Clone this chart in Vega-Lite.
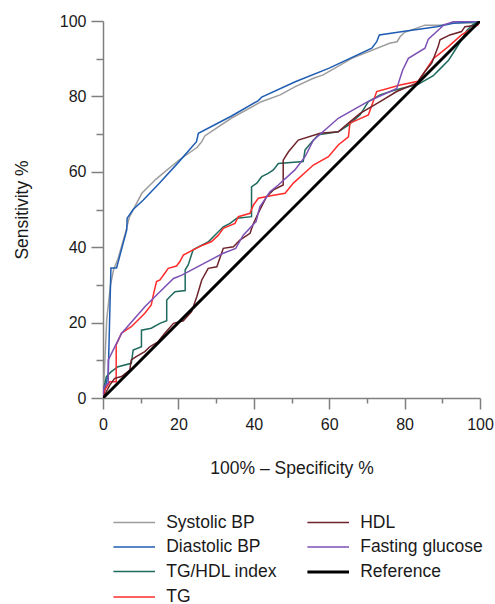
{
  "$schema": "https://vega.github.io/schema/vega-lite/v6.json",
  "width": 377,
  "height": 377,
  "autosize": {"type": "none"},
  "padding": {"left": 103, "top": 21, "right": 15, "bottom": 206},
  "background": "white",
  "config": {
    "font": "Liberation Sans",
    "view": {"stroke": null},
    "axis": {"grid": false, "domainColor": "#7f7f7f", "domainWidth": 1.5, "tickColor": "#7f7f7f", "tickWidth": 1.5, "labelFontSize": 16, "labelColor": "#1a1a1a", "titleFontSize": 17.5, "titleFontWeight": "normal", "titleColor": "#1a1a1a", "labelFlush": false},
    "legend": {"orient": "none", "legendX": 8.7, "legendY": 492, "columns": 2, "columnPadding": 23, "rowPadding": 6.5, "symbolType": "M-2.5,0H2.5", "symbolSize": 277, "symbolOffset": 12.5, "symbolStrokeWidth": 1.5, "labelFontSize": 17.5, "labelOffset": 22, "labelColor": "#1a1a1a", "padding": 0, "title": null}
  },
  "datasets": {
    "curves": [
      {"s": "Systolic BP", "x": 0, "y": 0}, {"s": "Systolic BP", "x": 0.5, "y": 10}, {"s": "Systolic BP", "x": 1, "y": 21}, {"s": "Systolic BP", "x": 2, "y": 30}, {"s": "Systolic BP", "x": 2.8, "y": 34}, {"s": "Systolic BP", "x": 4, "y": 37}, {"s": "Systolic BP", "x": 6, "y": 44}, {"s": "Systolic BP", "x": 7, "y": 48}, {"s": "Systolic BP", "x": 10.3, "y": 54.3}, {"s": "Systolic BP", "x": 14, "y": 58}, {"s": "Systolic BP", "x": 20, "y": 63}, {"s": "Systolic BP", "x": 25, "y": 66.5}, {"s": "Systolic BP", "x": 26.2, "y": 68}, {"s": "Systolic BP", "x": 27, "y": 69.5}, {"s": "Systolic BP", "x": 34, "y": 74.2}, {"s": "Systolic BP", "x": 42, "y": 78.6}, {"s": "Systolic BP", "x": 47, "y": 80.4}, {"s": "Systolic BP", "x": 51, "y": 82.6}, {"s": "Systolic BP", "x": 55.8, "y": 84.8}, {"s": "Systolic BP", "x": 58.4, "y": 85.7}, {"s": "Systolic BP", "x": 66, "y": 90.1}, {"s": "Systolic BP", "x": 76, "y": 94.1}, {"s": "Systolic BP", "x": 78, "y": 94.5}, {"s": "Systolic BP", "x": 78.8, "y": 95.8}, {"s": "Systolic BP", "x": 80, "y": 97}, {"s": "Systolic BP", "x": 85.4, "y": 98.9}, {"s": "Systolic BP", "x": 89.4, "y": 98.9}, {"s": "Systolic BP", "x": 93, "y": 99.5}, {"s": "Systolic BP", "x": 99, "y": 99.5}, {"s": "Systolic BP", "x": 100, "y": 100},
      {"s": "Diastolic BP", "x": 0, "y": 0}, {"s": "Diastolic BP", "x": 0.5, "y": 2}, {"s": "Diastolic BP", "x": 1.4, "y": 6.6}, {"s": "Diastolic BP", "x": 2.1, "y": 34.5}, {"s": "Diastolic BP", "x": 3.6, "y": 34.5}, {"s": "Diastolic BP", "x": 6.3, "y": 44.6}, {"s": "Diastolic BP", "x": 6.4, "y": 47.7}, {"s": "Diastolic BP", "x": 8, "y": 50}, {"s": "Diastolic BP", "x": 10.7, "y": 52.5}, {"s": "Diastolic BP", "x": 15, "y": 57}, {"s": "Diastolic BP", "x": 20, "y": 62.5}, {"s": "Diastolic BP", "x": 24.8, "y": 68}, {"s": "Diastolic BP", "x": 25.3, "y": 70.2}, {"s": "Diastolic BP", "x": 34.1, "y": 74.8}, {"s": "Diastolic BP", "x": 41.2, "y": 78.9}, {"s": "Diastolic BP", "x": 42.1, "y": 79.8}, {"s": "Diastolic BP", "x": 51, "y": 83.9}, {"s": "Diastolic BP", "x": 60, "y": 87.5}, {"s": "Diastolic BP", "x": 71.3, "y": 92.8}, {"s": "Diastolic BP", "x": 72.6, "y": 94.5}, {"s": "Diastolic BP", "x": 73.3, "y": 96.3}, {"s": "Diastolic BP", "x": 80, "y": 97.3}, {"s": "Diastolic BP", "x": 88.5, "y": 98.5}, {"s": "Diastolic BP", "x": 92.9, "y": 99.4}, {"s": "Diastolic BP", "x": 99, "y": 99.8}, {"s": "Diastolic BP", "x": 100, "y": 100},
      {"s": "TG/HDL index", "x": 0, "y": 0}, {"s": "TG/HDL index", "x": 0.3, "y": 3}, {"s": "TG/HDL index", "x": 0.9, "y": 5.7}, {"s": "TG/HDL index", "x": 2.2, "y": 7}, {"s": "TG/HDL index", "x": 4, "y": 8.3}, {"s": "TG/HDL index", "x": 7.5, "y": 9.2}, {"s": "TG/HDL index", "x": 8, "y": 12.7}, {"s": "TG/HDL index", "x": 10.2, "y": 13.6}, {"s": "TG/HDL index", "x": 10.2, "y": 18}, {"s": "TG/HDL index", "x": 12.8, "y": 18.5}, {"s": "TG/HDL index", "x": 15.1, "y": 19.8}, {"s": "TG/HDL index", "x": 16.9, "y": 20.5}, {"s": "TG/HDL index", "x": 16.9, "y": 26}, {"s": "TG/HDL index", "x": 17.8, "y": 26.9}, {"s": "TG/HDL index", "x": 19.1, "y": 28.2}, {"s": "TG/HDL index", "x": 21.8, "y": 28.5}, {"s": "TG/HDL index", "x": 21.8, "y": 34}, {"s": "TG/HDL index", "x": 22.6, "y": 35.3}, {"s": "TG/HDL index", "x": 23.9, "y": 39.3}, {"s": "TG/HDL index", "x": 25.3, "y": 40.1}, {"s": "TG/HDL index", "x": 28, "y": 41.5}, {"s": "TG/HDL index", "x": 30, "y": 43.5}, {"s": "TG/HDL index", "x": 31.9, "y": 45.4}, {"s": "TG/HDL index", "x": 33.7, "y": 46.3}, {"s": "TG/HDL index", "x": 35.5, "y": 47.7}, {"s": "TG/HDL index", "x": 39.4, "y": 48.1}, {"s": "TG/HDL index", "x": 39.4, "y": 56}, {"s": "TG/HDL index", "x": 40.8, "y": 57}, {"s": "TG/HDL index", "x": 42.1, "y": 58.7}, {"s": "TG/HDL index", "x": 43.8, "y": 59.6}, {"s": "TG/HDL index", "x": 45.2, "y": 60.5}, {"s": "TG/HDL index", "x": 46.5, "y": 62.2}, {"s": "TG/HDL index", "x": 53.1, "y": 62.7}, {"s": "TG/HDL index", "x": 53.6, "y": 65.8}, {"s": "TG/HDL index", "x": 55.8, "y": 68.4}, {"s": "TG/HDL index", "x": 57.1, "y": 69.8}, {"s": "TG/HDL index", "x": 62.4, "y": 70.6}, {"s": "TG/HDL index", "x": 65.1, "y": 72.4}, {"s": "TG/HDL index", "x": 68.2, "y": 75.1}, {"s": "TG/HDL index", "x": 70.4, "y": 78.6}, {"s": "TG/HDL index", "x": 73.5, "y": 80.4}, {"s": "TG/HDL index", "x": 77.5, "y": 81.7}, {"s": "TG/HDL index", "x": 83.6, "y": 83.2}, {"s": "TG/HDL index", "x": 87.6, "y": 85.5}, {"s": "TG/HDL index", "x": 89.4, "y": 87.3}, {"s": "TG/HDL index", "x": 91.6, "y": 89.5}, {"s": "TG/HDL index", "x": 93.4, "y": 92.3}, {"s": "TG/HDL index", "x": 95.1, "y": 95}, {"s": "TG/HDL index", "x": 96.5, "y": 97.5}, {"s": "TG/HDL index", "x": 98, "y": 99}, {"s": "TG/HDL index", "x": 100, "y": 100},
      {"s": "TG", "x": 0, "y": 0}, {"s": "TG", "x": 0.4, "y": 2}, {"s": "TG", "x": 1.8, "y": 4.3}, {"s": "TG", "x": 3.5, "y": 4.3}, {"s": "TG", "x": 3.5, "y": 14.1}, {"s": "TG", "x": 4.9, "y": 17.2}, {"s": "TG", "x": 7.5, "y": 18.9}, {"s": "TG", "x": 9.3, "y": 20.7}, {"s": "TG", "x": 11.1, "y": 22.5}, {"s": "TG", "x": 12.8, "y": 24.7}, {"s": "TG", "x": 13.5, "y": 28}, {"s": "TG", "x": 14.2, "y": 30.9}, {"s": "TG", "x": 15.1, "y": 31.3}, {"s": "TG", "x": 16.4, "y": 33.1}, {"s": "TG", "x": 17.3, "y": 34.4}, {"s": "TG", "x": 19.5, "y": 35}, {"s": "TG", "x": 20.4, "y": 36.2}, {"s": "TG", "x": 21.3, "y": 37.9}, {"s": "TG", "x": 23.9, "y": 39.3}, {"s": "TG", "x": 26.6, "y": 40.6}, {"s": "TG", "x": 28.8, "y": 41.5}, {"s": "TG", "x": 30.6, "y": 43.2}, {"s": "TG", "x": 31.9, "y": 45}, {"s": "TG", "x": 35, "y": 46.3}, {"s": "TG", "x": 35.9, "y": 48.1}, {"s": "TG", "x": 39, "y": 49}, {"s": "TG", "x": 39.9, "y": 51.2}, {"s": "TG", "x": 41.2, "y": 53}, {"s": "TG", "x": 45.2, "y": 53.8}, {"s": "TG", "x": 48.3, "y": 54.3}, {"s": "TG", "x": 50.5, "y": 57}, {"s": "TG", "x": 55.8, "y": 61.8}, {"s": "TG", "x": 59.8, "y": 64}, {"s": "TG", "x": 62.4, "y": 67.1}, {"s": "TG", "x": 65.1, "y": 69.3}, {"s": "TG", "x": 65.5, "y": 72.9}, {"s": "TG", "x": 70.4, "y": 75.1}, {"s": "TG", "x": 72.6, "y": 81.3}, {"s": "TG", "x": 78.8, "y": 83}, {"s": "TG", "x": 83.6, "y": 84}, {"s": "TG", "x": 85, "y": 86}, {"s": "TG", "x": 87.6, "y": 90}, {"s": "TG", "x": 91.6, "y": 93.2}, {"s": "TG", "x": 95.1, "y": 96.3}, {"s": "TG", "x": 99.5, "y": 99}, {"s": "TG", "x": 100, "y": 100},
      {"s": "HDL", "x": 0, "y": 0}, {"s": "HDL", "x": 0.5, "y": 1}, {"s": "HDL", "x": 1.8, "y": 3.4}, {"s": "HDL", "x": 3.1, "y": 5.2}, {"s": "HDL", "x": 4.9, "y": 5.7}, {"s": "HDL", "x": 7.1, "y": 7.4}, {"s": "HDL", "x": 7.5, "y": 10.1}, {"s": "HDL", "x": 8.8, "y": 11}, {"s": "HDL", "x": 11.1, "y": 12.3}, {"s": "HDL", "x": 12.4, "y": 13.6}, {"s": "HDL", "x": 14.6, "y": 14.9}, {"s": "HDL", "x": 16.4, "y": 17.2}, {"s": "HDL", "x": 18.7, "y": 19.8}, {"s": "HDL", "x": 21.3, "y": 20.5}, {"s": "HDL", "x": 23.5, "y": 22.9}, {"s": "HDL", "x": 24.9, "y": 26.9}, {"s": "HDL", "x": 26.2, "y": 31.3}, {"s": "HDL", "x": 27.9, "y": 34.4}, {"s": "HDL", "x": 30.2, "y": 34.8}, {"s": "HDL", "x": 31.9, "y": 39.7}, {"s": "HDL", "x": 34.6, "y": 40.1}, {"s": "HDL", "x": 36.3, "y": 41.9}, {"s": "HDL", "x": 39, "y": 43.7}, {"s": "HDL", "x": 39.9, "y": 46.3}, {"s": "HDL", "x": 41.6, "y": 49.9}, {"s": "HDL", "x": 43.4, "y": 53.4}, {"s": "HDL", "x": 45.2, "y": 55.2}, {"s": "HDL", "x": 47.8, "y": 56.5}, {"s": "HDL", "x": 47.8, "y": 63.1}, {"s": "HDL", "x": 49.2, "y": 65.3}, {"s": "HDL", "x": 51.8, "y": 68.4}, {"s": "HDL", "x": 57.6, "y": 70.2}, {"s": "HDL", "x": 62.4, "y": 70.6}, {"s": "HDL", "x": 65.1, "y": 72.9}, {"s": "HDL", "x": 68.2, "y": 75.5}, {"s": "HDL", "x": 73.5, "y": 78.6}, {"s": "HDL", "x": 77.9, "y": 81.3}, {"s": "HDL", "x": 83.2, "y": 83.5}, {"s": "HDL", "x": 85.4, "y": 86.6}, {"s": "HDL", "x": 87.2, "y": 88.8}, {"s": "HDL", "x": 88.9, "y": 93.2}, {"s": "HDL", "x": 89.4, "y": 95}, {"s": "HDL", "x": 92, "y": 96.3}, {"s": "HDL", "x": 95.1, "y": 97.2}, {"s": "HDL", "x": 96, "y": 98.5}, {"s": "HDL", "x": 98.6, "y": 98.8}, {"s": "HDL", "x": 100, "y": 100},
      {"s": "Fasting glucose", "x": 0, "y": 0}, {"s": "Fasting glucose", "x": 0, "y": 1.2}, {"s": "Fasting glucose", "x": 0.3, "y": 3}, {"s": "Fasting glucose", "x": 1.4, "y": 4}, {"s": "Fasting glucose", "x": 1.4, "y": 10.1}, {"s": "Fasting glucose", "x": 4.9, "y": 17.1}, {"s": "Fasting glucose", "x": 11.1, "y": 24.2}, {"s": "Fasting glucose", "x": 15.1, "y": 28.2}, {"s": "Fasting glucose", "x": 18.7, "y": 31.7}, {"s": "Fasting glucose", "x": 20.9, "y": 32.6}, {"s": "Fasting glucose", "x": 31.9, "y": 38.4}, {"s": "Fasting glucose", "x": 35.2, "y": 39.7}, {"s": "Fasting glucose", "x": 37.2, "y": 43.2}, {"s": "Fasting glucose", "x": 40.6, "y": 46.8}, {"s": "Fasting glucose", "x": 41.6, "y": 50.7}, {"s": "Fasting glucose", "x": 44.3, "y": 54.7}, {"s": "Fasting glucose", "x": 46.5, "y": 56.5}, {"s": "Fasting glucose", "x": 50.9, "y": 60.5}, {"s": "Fasting glucose", "x": 53.6, "y": 64}, {"s": "Fasting glucose", "x": 55.8, "y": 68.4}, {"s": "Fasting glucose", "x": 62.4, "y": 74.2}, {"s": "Fasting glucose", "x": 70, "y": 78.5}, {"s": "Fasting glucose", "x": 77.9, "y": 82.1}, {"s": "Fasting glucose", "x": 79.5, "y": 87}, {"s": "Fasting glucose", "x": 81, "y": 90.1}, {"s": "Fasting glucose", "x": 85.4, "y": 92.8}, {"s": "Fasting glucose", "x": 86.3, "y": 95.2}, {"s": "Fasting glucose", "x": 89.4, "y": 98}, {"s": "Fasting glucose", "x": 90.3, "y": 98.9}, {"s": "Fasting glucose", "x": 92.9, "y": 99.8}, {"s": "Fasting glucose", "x": 100, "y": 100}
    ],
    "reference": [
      {"s": "Reference", "x": 0, "y": 0}, {"s": "Reference", "x": 100, "y": 100}
    ]
  },
  "encoding": {
    "x": {"field": "x", "type": "quantitative", "scale": {"domain": [0, 100], "nice": false, "zero": false}, "axis": {"title": "100% – Specificity %", "values": [0, 10, 20, 30, 40, 50, 60, 70, 80, 90, 100], "labelExpr": "datum.value % 20 === 0 ? datum.label : ''", "tickSize": {"condition": {"test": "datum.value % 20 === 0", "value": 11}, "value": 5}, "labelPadding": 7, "titlePadding": 27}},
    "y": {"field": "y", "type": "quantitative", "scale": {"domain": [0, 100], "nice": false, "zero": false}, "axis": {"title": "Sensitivity %", "values": [0, 10, 20, 30, 40, 50, 60, 70, 80, 90, 100], "labelExpr": "datum.value % 20 === 0 ? datum.label : ''", "tickSize": {"condition": {"test": "datum.value % 20 === 0", "value": 12}, "value": 7}, "labelPadding": 5, "titlePadding": 28}},
    "color": {"field": "s", "type": "nominal", "scale": {"domain": ["Systolic BP", "Diastolic BP", "TG/HDL index", "TG", "HDL", "Fasting glucose", "Reference"], "range": ["#9d9d9d", "#1f5db3", "#1e6a5d", "#ff2b2b", "#6e2229", "#7d50b5", "#000000"]}, "legend": {"title": null}},
    "strokeWidth": {"field": "s", "type": "nominal", "scale": {"type": "ordinal", "domain": ["Systolic BP", "Diastolic BP", "TG/HDL index", "TG", "HDL", "Fasting glucose", "Reference"], "range": [1.5, 1.5, 1.5, 1.5, 1.5, 1.5, 3]}, "legend": {"title": null}},
    "order": {"value": null}
  },
  "layer": [
    {"data": {"name": "curves"}, "mark": {"type": "line", "clip": true}},
    {"data": {"name": "reference"}, "mark": {"type": "line", "clip": true}}
  ]
}
